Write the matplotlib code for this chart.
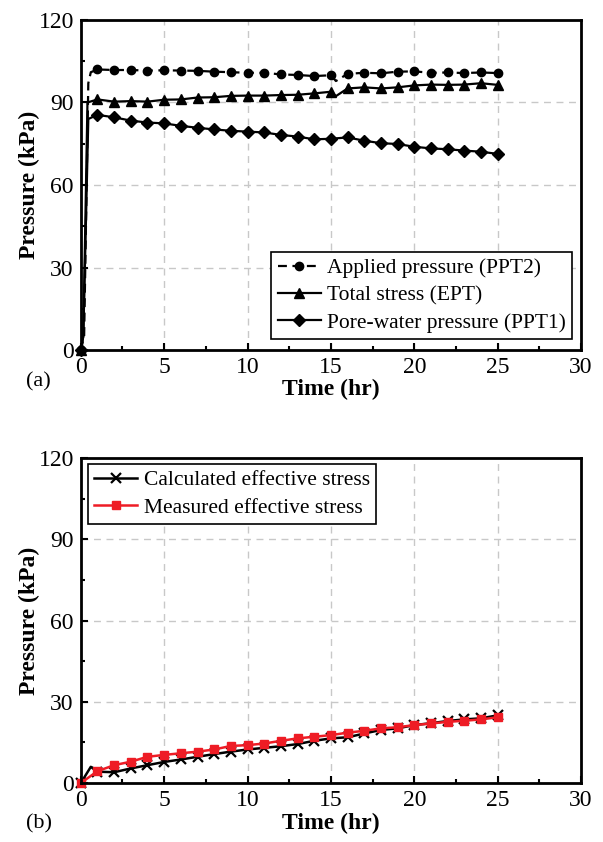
import numpy as np
import matplotlib.pyplot as plt
from matplotlib.ticker import MultipleLocator

plt.rcParams['font.family'] = ['Liberation Serif', 'DejaVu Serif']
plt.rcParams['mathtext.fontset'] = 'stix'

# (a) ölçülen basınçlar
t_app = [0, 0.2, 0.45, 0.6, 1, 2, 3, 4, 5, 6, 7, 8, 9, 10, 11, 12, 13, 14, 15, 15.3,
         16, 17, 18, 19, 20, 21, 22, 23, 24, 25]
applied = [0, 5, 97, 101, 102.0, 101.8, 101.8, 101.6, 101.7, 101.6, 101.5, 101.2, 101.0,
           100.8, 100.8, 100.2, 100.0, 99.6, 99.9, 97.8,
           100.4, 100.8, 100.6, 101.2, 101.3, 100.8, 100.9, 100.7, 100.9, 100.7]

t_tot = [0, 0.15, 0.4, 1, 2, 3, 4, 5, 6, 7, 8, 9, 10, 11, 12, 13, 14, 15, 15.3,
         16, 17, 18, 19, 20, 21, 22, 23, 24, 25]
total = [0, 5, 90, 91.1, 90.3, 90.5, 90.3, 91.0, 91.1, 91.8, 91.9, 92.4, 92.5, 92.5, 92.7,
         92.8, 93.3, 93.9, 92.3,
         95.1, 95.5, 95.1, 95.5, 96.2, 96.5, 96.4, 96.5, 97.0, 96.4]

t_pwp = [0, 0.15, 0.45, 1, 2, 3, 4, 5, 6, 7, 8, 9, 10, 11, 12, 13, 14, 15,
         16, 17, 18, 19, 20, 21, 22, 23, 24, 25]
pwp = [0, 5, 84, 85.5, 84.6, 83.4, 82.7, 82.4, 81.5, 80.8, 80.2, 79.7, 79.4, 79.1, 78.2,
       77.6, 76.6, 76.8, 77.3, 76.1, 75.2, 74.9, 73.9, 73.3, 73.0, 72.5, 72.1, 71.3]

# (b) efektif gerilme
t_calc = [0, 0.6, 1, 2, 3, 4, 5, 6, 7, 8, 9, 10, 11, 12, 13, 14, 15, 16, 17, 18, 19, 20,
          21, 22, 23, 24, 25]
calc = [0, 6, 4.2, 4.0, 5.4, 6.6, 7.8, 8.7, 9.7, 10.7, 11.6, 12.4, 13.0, 13.6, 14.4, 15.6,
        16.5, 16.9, 18.3, 19.6, 20.2, 21.4, 22.1, 22.9, 23.5, 23.9, 25.0]

t_meas = list(range(26))
meas = [0, 4.4, 6.6, 7.9, 9.7, 10.4, 11.0, 11.6, 12.4, 13.7, 14.0, 14.6, 15.6, 16.5, 17.1,
        17.7, 18.6, 19.3, 20.2, 20.6, 21.4, 22.0, 22.6, 23.0, 23.5, 24.3]


def marks(t):
    # sadece tam saatlerde işaretçi
    return [i for i, v in enumerate(t) if float(v).is_integer()]


def style_axes(ax):
    ax.set_xlim(0, 30)
    ax.set_ylim(0, 120)
    ax.xaxis.set_major_locator(MultipleLocator(5))
    ax.xaxis.set_minor_locator(MultipleLocator(2.5))
    ax.yaxis.set_major_locator(MultipleLocator(30))
    ax.yaxis.set_minor_locator(MultipleLocator(15))
    ax.tick_params(which='both', direction='in', top=False, right=False,
                   labelsize=17, width=1.5, pad=5)
    ax.tick_params(which='major', length=5)
    ax.tick_params(which='minor', length=3)
    for s in ax.spines.values():
        s.set_linewidth(2)
    ax.grid(True, which='major', linestyle=(0, (5, 4)), color='#c8c8c8', lw=1)
    ax.set_axisbelow(True)
    ax.set_xlabel('Time (hr)', fontsize=17, fontweight='bold', labelpad=1)
    ax.set_ylabel('Pressure (kPa)', fontsize=17, fontweight='bold', labelpad=-1)


def legend(ax, loc, anchor):
    leg = ax.legend(loc=loc, bbox_to_anchor=anchor, fontsize=15.5,
                    frameon=True, fancybox=False, edgecolor='k', framealpha=1,
                    handlelength=2.0, handletextpad=0.3, borderpad=0.3,
                    labelspacing=0.33, borderaxespad=0)
    leg.get_frame().set_linewidth(1.2)


fig = plt.figure(figsize=(6.03, 8.42), dpi=100)
ax1 = fig.add_axes([0.134, 0.5843, 0.8295, 0.392])
ax2 = fig.add_axes([0.134, 0.070, 0.8295, 0.386])

ax1.plot(t_app, applied, 'k--', marker='o', ms=6, lw=1.6, markevery=marks(t_app),
         dashes=(4, 2.5), label='Applied pressure (PPT2)', clip_on=False)
ax1.plot(t_tot, total, 'k-', marker='^', ms=7, lw=1.6, markevery=marks(t_tot),
         label='Total stress (EPT)', clip_on=False)
ax1.plot(t_pwp, pwp, 'k-', marker='D', ms=6, lw=1.6, markevery=marks(t_pwp),
         label='Pore-water pressure (PPT1)', clip_on=False)
style_axes(ax1)
legend(ax1, 'lower right', (0.983, 0.033))

ax2.plot(t_calc, calc, 'k-', marker='x', ms=7, mew=1.6, lw=1.8, markevery=marks(t_calc),
         label='Calculated effective stress', clip_on=False)
ax2.plot(t_meas, meas, '-', color='#ee1c25', marker='s', ms=6, lw=1.8,
         label='Measured effective stress', clip_on=False)
style_axes(ax2)
legend(ax2, 'upper left', (0.014, 0.982))

fig.text(0.043, 0.547, '(a)', fontsize=16, ha='left', va='center')
fig.text(0.043, 0.022, '(b)', fontsize=16, ha='left', va='center')

fig.savefig('out.png', dpi=100)
